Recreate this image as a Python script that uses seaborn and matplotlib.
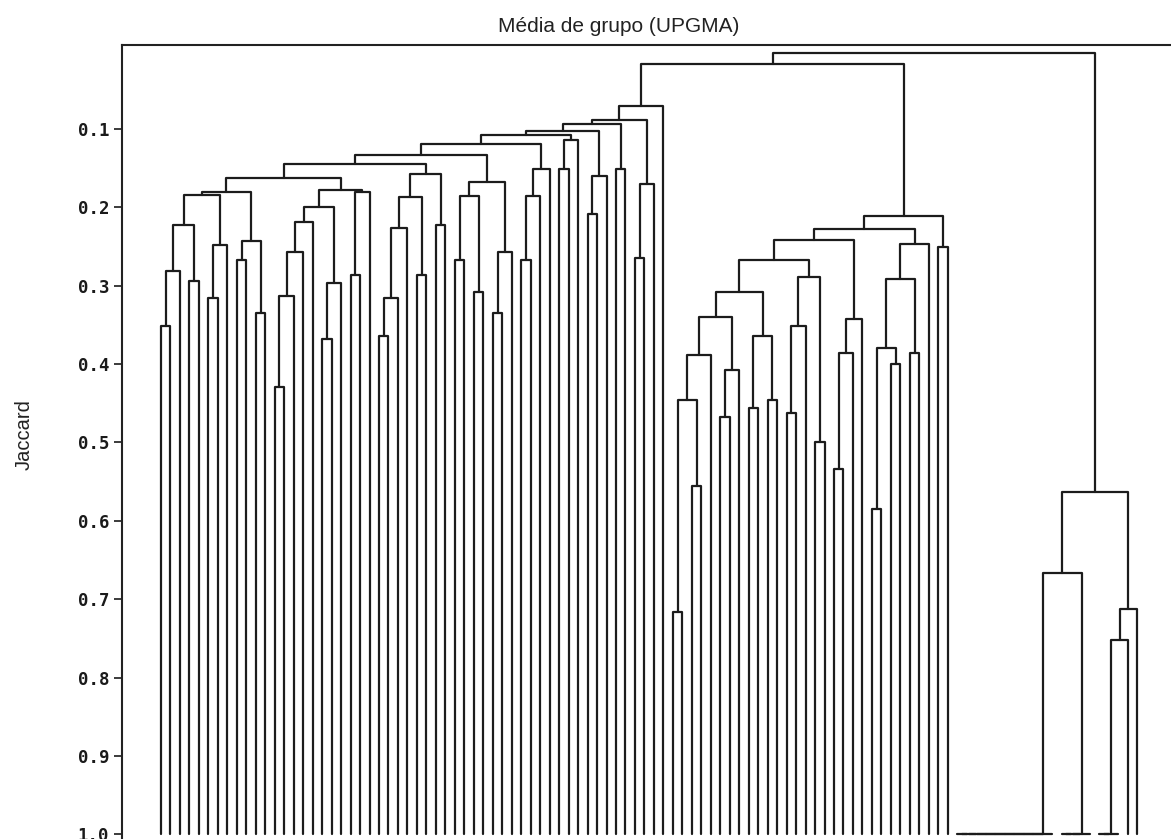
import numpy as np
import pandas as pd
import matplotlib
matplotlib.use("Agg")
import matplotlib.pyplot as plt
import seaborn as sns

# ---------------- data ----------------
title = "Média de grupo (UPGMA)"
y_label = "Jaccard"
y_ticks = [0.1, 0.2, 0.3, 0.4, 0.5, 0.6, 0.7, 0.8, 0.9, 1.0]
y_tick_labels = ["0.1", "0.2", "0.3", "0.4", "0.5", "0.6", "0.7", "0.8", "0.9", "1.0"]

n_leaves = 104
leaf_level = 1.0

# merges: (node name, child a, child b, similarity level); ints are leaves
left_merges = [
    ("L01", 0, 1, 0.351), ("L012", "L01", 2, 0.281), ("L34", 3, 4, 0.294),
    ("L0_4", "L012", "L34", 0.223), ("L56", 5, 6, 0.315), ("L5_7", "L56", 7, 0.248),
    ("L0_7", "L0_4", "L5_7", 0.184), ("L89", 8, 9, 0.267), ("L1011", 10, 11, 0.335),
    ("L8_11", "L89", "L1011", 0.243), ("L0_11", "L0_7", "L8_11", 0.180),
    ("L1213", 12, 13, 0.429), ("L12_14", "L1213", 14, 0.313), ("L12_15", "L12_14", 15, 0.257),
    ("L12_16", "L12_15", 16, 0.219), ("L1718", 17, 18, 0.368), ("L17_19", "L1718", 19, 0.296),
    ("L12_19", "L12_16", "L17_19", 0.199), ("L2021", 20, 21, 0.286), ("L20_22", "L2021", 22, 0.180),
    ("L12_22", "L12_19", "L20_22", 0.178), ("L0_22", "L0_11", "L12_22", 0.162),
    ("L2324", 23, 24, 0.364), ("L23_25", "L2324", 25, 0.315), ("L23_26", "L23_25", 26, 0.226),
    ("L2728", 27, 28, 0.286), ("L23_28", "L23_26", "L2728", 0.187), ("L2930", 29, 30, 0.223),
    ("L23_30", "L23_28", "L2930", 0.158), ("L0_30", "L0_22", "L23_30", 0.144),
    ("L3132", 31, 32, 0.267), ("L3334", 33, 34, 0.308), ("L31_34", "L3132", "L3334", 0.185),
    ("L3536", 35, 36, 0.335), ("L35_37", "L3536", 37, 0.257), ("L31_37", "L31_34", "L35_37", 0.168),
    ("L0_37", "L0_30", "L31_37", 0.133), ("L3839", 38, 39, 0.267), ("L38_40", "L3839", 40, 0.185),
    ("L38_41", "L38_40", 41, 0.151), ("L0_41", "L0_37", "L38_41", 0.119),
    ("L4243", 42, 43, 0.151), ("L42_44", "L4243", 44, 0.114), ("L0_44", "L0_41", "L42_44", 0.107),
    ("L4546", 45, 46, 0.208), ("L45_47", "L4546", 47, 0.160), ("L0_47", "L0_44", "L45_47", 0.102),
    ("L4849", 48, 49, 0.151), ("L0_49", "L0_47", "L4849", 0.093),
    ("L5051", 50, 51, 0.265), ("L50_52", "L5051", 52, 0.170), ("L0_52", "L0_49", "L50_52", 0.088),
    ("LEFT", "L0_52", 53, 0.070),
]

middle_merges = [
    ("M0", 54, 55, 0.716), ("M1", 56, 57, 0.555), ("M2", "M0", "M1", 0.446),
    ("M3", "M2", 58, 0.388), ("M4", 59, 60, 0.468), ("M5", "M4", 61, 0.408),
    ("M6", "M3", "M5", 0.340), ("M7", 62, 63, 0.456), ("M8", 64, 65, 0.446),
    ("M9", "M7", "M8", 0.364), ("M10", "M6", "M9", 0.308), ("M11", 66, 67, 0.463),
    ("M12", "M11", 68, 0.352), ("M13", 69, 70, 0.500), ("M14", "M12", "M13", 0.289),
    ("M15", "M10", "M14", 0.267), ("M16", 71, 72, 0.534), ("M17", "M16", 73, 0.386),
    ("M18", "M17", 74, 0.342), ("M19", "M15", "M18", 0.241), ("M20", 75, 76, 0.585),
    ("M21", 77, 78, 0.400), ("M22", "M20", "M21", 0.380), ("M23", 79, 80, 0.386),
    ("M24", "M22", "M23", 0.291), ("M25", "M24", 81, 0.247), ("M26", "M19", "M25", 0.228),
    ("M27", 82, 83, 0.250), ("MIDDLE", "M26", "M27", 0.211),
]

# groups of identical samples (joined at similarity 1.0)
identical_groups = [("G0", list(range(84, 95))), ("G1", list(range(95, 99))), ("G2", list(range(99, 102)))]

right_merges = [
    ("R_a", "G0", "G1", 0.667), ("R_b", "G2", 102, 0.752),
    ("R_c", "R_b", 103, 0.713), ("RIGHT", "R_a", "R_c", 0.563),
]

top_merges = [("LM", "LEFT", "MIDDLE", 0.017), ("ROOT", "LM", "RIGHT", 0.0033)]

# ---------------- build dendrogram segments ----------------
chain_merges = []
for gname, members in identical_groups:
    prev = members[0]
    for k, leaf in enumerate(members[1:]):
        nm = gname if k == len(members) - 2 else f"{gname}_{k}"
        chain_merges.append((nm, prev, leaf, leaf_level))
        prev = nm

all_merges = left_merges + middle_merges + chain_merges + right_merges + top_merges

pos = {i: float(i) for i in range(n_leaves)}
lev = {i: leaf_level for i in range(n_leaves)}
rows = []
for sid, (name, a, b, h) in enumerate(all_merges):
    xa, ya, xb, yb = pos[a], lev[a], pos[b], lev[b]
    for order, (x, y) in enumerate([(xa, ya), (xa, h), (xb, h), (xb, yb)]):
        rows.append({"seg": sid, "order": order, "x": x, "y": y})
    pos[name] = (xa + xb) / 2.0
    lev[name] = h
df = pd.DataFrame(rows)

# ---------------- figure ----------------
sns.set_theme(style="white")
plt.rcParams['font.family'] = ['Liberation Sans', 'DejaVu Sans']

W, H = 1171, 839
fig = plt.figure(figsize=(W / 100, H / 100), dpi=100)
ax = fig.add_axes([122 / W, 0.0, 1049 / W, 794 / H])

line_color = "#1c1c1c"
sns.lineplot(data=df, x="x", y="y", units="seg", estimator=None, sort=False,
             color=line_color, linewidth=1.6, ax=ax, legend=False)

def v_of(py):
    return (py - 50.7) / 783.5

ax.set_xlim(-39 / 9.479, 1010 / 9.479)
ax.set_ylim(v_of(839), v_of(45))
ax.set_xlabel("")
ax.set_ylabel("")
ax.set_xticks([])
ax.set_yticks(y_ticks)
ax.set_yticklabels(y_tick_labels)
for lbl in ax.get_yticklabels():
    lbl.set_fontfamily("DejaVu Sans Mono")
    lbl.set_fontweight("bold")
    lbl.set_fontsize(12.5)
    lbl.set_color("#1a1a1a")
ax.tick_params(axis="y", direction="out", length=5.8, width=1.2, pad=3.5,
               colors="#1a1a1a", left=True)

for side in ["right", "bottom"]:
    ax.spines[side].set_visible(False)
for side in ["top", "left"]:
    ax.spines[side].set_visible(True)
    ax.spines[side].set_color("#222222")
    ax.spines[side].set_linewidth(1.5)

fig.text(619 / W, 1 - 32 / H, title, ha="center", va="baseline",
         fontsize=15, color="#222222")
fig.text(24 / W, 1 - 435 / H, y_label, rotation=90, ha="center", va="center",
         fontsize=14.5, color="#222222")

fig.savefig("out.png", dpi=100)
